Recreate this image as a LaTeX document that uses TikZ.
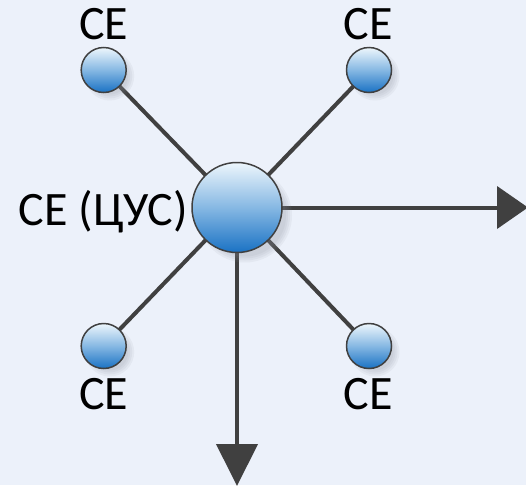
\documentclass[tikz,border=0pt]{standalone}
\usepackage{fontspec}
\setmainfont{Carlito}
\usetikzlibrary{arrows.meta,calc}
\pgfdeclarelayer{back}
\pgfdeclarelayer{bg}
\pgfdeclarelayer{shad}
\pgfsetlayers{back,bg,shad,main}
\definecolor{bgc}{HTML}{ECF1FA}
\definecolor{linec}{HTML}{404040}
\definecolor{ctop}{HTML}{EDF6FC}
\definecolor{cmid}{HTML}{86B8E3}
\definecolor{cbot}{HTML}{1A72C4}
\definecolor{shc}{HTML}{8A8F99}
\tikzset{
  node circle/.style={circle, draw=linec, line width=1.5pt, inner sep=0pt,
    top color=ctop, bottom color=cbot, middle color=cmid},
  bigc/.style={node circle, minimum size=90pt},
  smallc/.style={node circle, minimum size=45pt},
  conn/.style={draw=linec, line width=4pt},
  lbl/.style={font=\fontsize{48}{58}\selectfont, text=black, inner sep=0pt},
  shadowc/.style={fill=shc, fill opacity=0.09},
}
\newcommand{\myshadow}[3]{%
  \fill[shadowc] ($(#1)+(#3,#3)$) circle (#2+2);
  \fill[shadowc] ($(#1)+(#3,#3)$) circle (#2);
  \fill[shadowc] ($(#1)+(#3,#3)$) circle (#2-2);
  \fill[shadowc] ($(#1)+(#3,#3)$) circle (#2-4);
}
\begin{document}
\begin{tikzpicture}[x=1pt,y=-1pt]
\begin{pgfonlayer}{back}
\fill[bgc] (0,0) rectangle (526,485);
\end{pgfonlayer}
\useasboundingbox (0,0) rectangle (526,485);
\node[bigc] (c) at (237,207.5) {};
\node[smallc] (tl) at (103.7,70) {};
\node[smallc] (tr) at (369,70) {};
\node[smallc] (bl) at (103.7,346) {};
\node[smallc] (br) at (369,346) {};
\coordinate (re) at (528,207.5);
\coordinate (de) at (237,486);
\node[lbl, anchor=base] (ltl) at (103.7,39) {CE};
\node[lbl, anchor=base] (ltr) at (368,39) {CE};
\node[lbl, anchor=base] (lbl1) at (103.7,409) {CE};
\node[lbl, anchor=base] (lbr) at (368,409) {CE};
\node[lbl, anchor=base east] (lc) at (188,225) {CE (ЦУС)};
\begin{pgfonlayer}{shad}
\myshadow{c}{45}{8}
\myshadow{tl}{22.5}{6}
\myshadow{tr}{22.5}{6}
\myshadow{bl}{22.5}{6}
\myshadow{br}{22.5}{6}
\end{pgfonlayer}
\begin{pgfonlayer}{bg}
\draw[conn] (c.center) -- (tl.center);
\draw[conn] (c.center) -- (tr.center);
\draw[conn] (c.center) -- (bl.center);
\draw[conn] (c.center) -- (br.center);
\draw[conn, -{Triangle[length=31pt,width=42pt]}] (c.center) -- (re);
\draw[conn, -{Triangle[length=42pt,width=41pt]}] (c.center) -- (de);
\end{pgfonlayer}
\end{tikzpicture}
\end{document}
